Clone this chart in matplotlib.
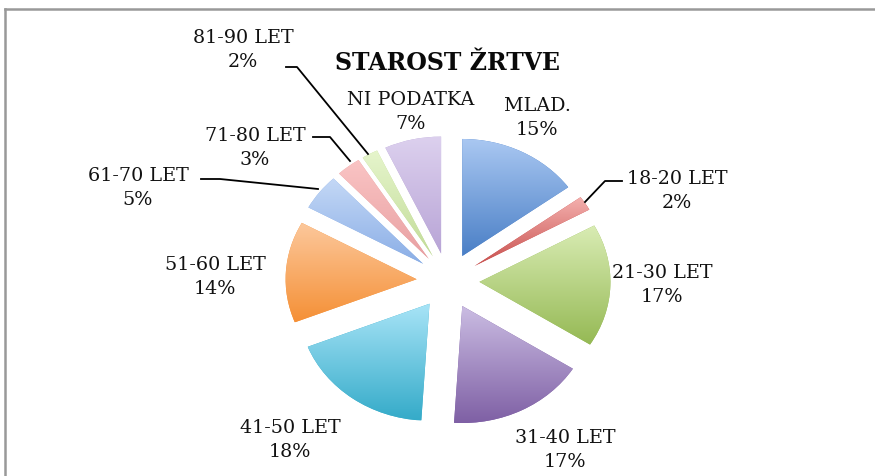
import numpy as np
import matplotlib
matplotlib.use("Agg")
import matplotlib.pyplot as plt
from matplotlib.colors import to_rgb
from matplotlib.lines import Line2D

# ---- data ----
categories = ["MLAD.", "18-20 LET", "21-30 LET", "31-40 LET", "41-50 LET",
              "51-60 LET", "61-70 LET", "71-80 LET", "81-90 LET", "NI PODATKA"]
shares = [15, 2, 17, 17, 18, 14, 5, 3, 2, 7]
title = "STAROST ŽRTVE"

# ---- styling ----
grad_top = ["#aac8f2", "#f4b0ae", "#d9ecb4", "#cbbde3", "#a8e4f7",
            "#fcc89c", "#c4d8f6", "#fac4c4", "#e6f5cc", "#dcd0ee"]
grad_bottom = ["#4a7fc6", "#c8504e", "#95b954", "#7e5fa4", "#35abc9",
               "#f59036", "#8aaee6", "#e8a0a2", "#c2dc98", "#b8a4d6"]

W, H = 875, 477
fig = plt.figure(figsize=(W / 100, H / 100), dpi=100)
fig.patch.set_facecolor("white")

# pie centre and radii in pixels (pie is slightly wider than tall)
cx, cy, rx, ry = 448, 282, 131, 117
ax = fig.add_axes([0, 0, 1, 1])
ax.axis("off")

wedges, _ = ax.pie(shares, explode=[0.24] * len(shares), startangle=90,
                   counterclock=False, radius=1.0,
                   colors=grad_bottom, wedgeprops=dict(linewidth=0))

# vertical gradient inside each slice
for w, ct, cb in zip(wedges, grad_top, grad_bottom):
    v = w.get_path().vertices
    x0, x1 = v[:, 0].min(), v[:, 0].max()
    y0, y1 = v[:, 1].min(), v[:, 1].max()
    t = np.linspace(0, 1, 128)[:, None]
    a, b = np.array(to_rgb(cb)), np.array(to_rgb(ct))
    img = (a * (1 - t) + b * t)[:, None, :]
    im = ax.imshow(img, extent=(x0, x1, y0, y1), origin="lower",
                   aspect="auto", interpolation="bilinear", zorder=2)
    im.set_clip_path(w)

ax.set_aspect("auto")
ax.set_xlim((0 - cx) / rx, (W - cx) / rx)
ax.set_ylim(-(H - cy) / ry, cy / ry)


def fpx(x, y):
    """pixel position (from top-left) -> figure fraction"""
    return x / W, 1 - y / H


# label placement (pixel centres)
label_pos = [(537, 118), (677, 191), (662, 285), (565, 450), (290, 440),
             (215, 277), (138, 188), (255, 148), (243, 50), (411, 112)]

font = "DejaVu Serif"
for name, val, (lx, ly) in zip(categories, shares, label_pos):
    fig.text(*fpx(lx, ly), f"{name}\n{val}%", ha="center", va="center",
             fontsize=13.8, family=font, color="#111111", linespacing=1.45)

fig.text(*fpx(447, 63), title, ha="center", va="center", fontsize=17,
         fontweight="heavy", family=font, color="#0a0a0a")

# leader lines for the thin slices (pixel polylines)
leaders = [
    [(622, 182), (605, 182), (585, 203)],
    [(201, 180), (220, 180), (318, 190)],
    [(313, 138), (330, 138), (350, 162)],
    [(286, 68), (297, 68), (368, 155)],
]
for pts in leaders:
    xs, ys = zip(*[fpx(x, y) for x, y in pts])
    fig.add_artist(Line2D(xs, ys, transform=fig.transFigure,
                          color="black", linewidth=1.3, zorder=5))

# chart frame (top and left edges visible)
fig.add_artist(Line2D([5 / W, 1], [1 - 10 / H, 1 - 10 / H],
                      transform=fig.transFigure, color="#999999", lw=1.8))
fig.add_artist(Line2D([5 / W, 5 / W], [0, 1 - 10 / H],
                      transform=fig.transFigure, color="#999999", lw=1.8))

fig.savefig("out.png", dpi=100, facecolor="white")
